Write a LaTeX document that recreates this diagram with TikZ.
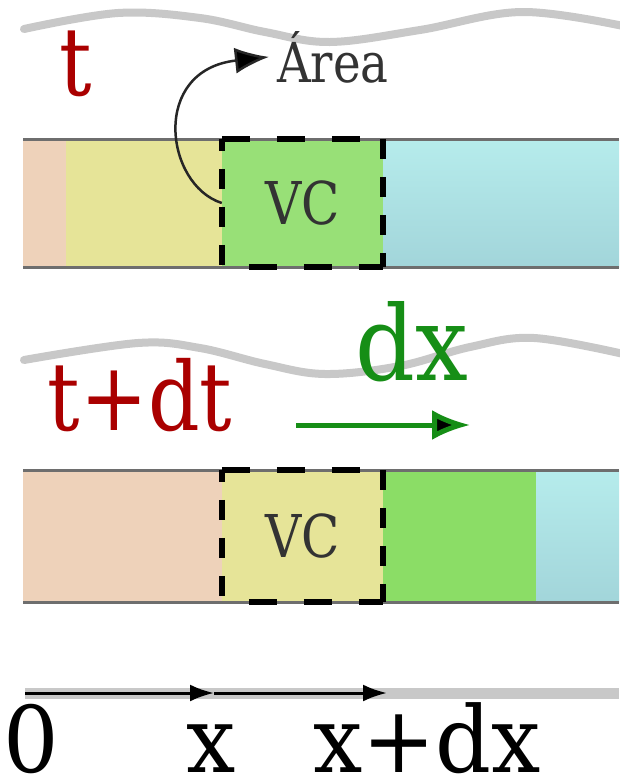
\documentclass[tikz,border=0pt]{standalone}
\usepackage{fontspec}
\newfontfamily\lab{DejaVu Serif}[FakeStretch=0.85]
\newfontfamily\labw{DejaVu Serif}[FakeStretch=0.95]
\newfontfamily\labd{DejaVu Serif}[FakeStretch=0.9]
\usetikzlibrary{arrows.meta}
\definecolor{peach}{HTML}{EED2BA}
\definecolor{yel}{HTML}{E6E498}
\definecolor{grnA}{HTML}{98E077}
\definecolor{grnB}{HTML}{8BDD66}
\definecolor{cyanT}{HTML}{B6ECEC}
\definecolor{cyanB}{HTML}{A2D5DA}
\definecolor{wavegray}{HTML}{C8C8C8}
\definecolor{bargray}{HTML}{6E6E6E}
\definecolor{tred}{HTML}{AA0000}
\definecolor{dxgreen}{HTML}{168E16}
\definecolor{txtgray}{HTML}{333333}
\begin{document}
\begin{tikzpicture}[x=1pt,y=-1pt,
  biglab/.style={font=\lab\fontsize{95}{100}\selectfont, inner sep=0pt, anchor=base},
  axlab/.style={font=\labw\fontsize{92}{97}\selectfont, inner sep=0pt, anchor=base},
  wave/.style={draw=wavegray, line width=8pt, line cap=round},
  barline/.style={draw=bargray, line width=3pt},
  vcbox/.style={minimum width=161pt, minimum height=128pt, inner sep=0pt, text=txtgray,
                font=\lab\fontsize{59}{62}\selectfont},
  hdash/.style={draw=black, line width=6pt, dash pattern=on 28pt off 27pt},
  vdash/.style={draw=black, line width=6pt, dash pattern=on 20pt off 18pt},
  axarrow/.style={draw=black, line width=3pt, -{Latex[length=24pt,width=17pt]}},
  flow/.style={draw=dxgreen, line width=5pt, -{Latex[length=38pt,width=30pt,fill=black]}},
  areaarrow/.style={draw=black!85, line width=2.5pt, -{Latex[length=34pt,width=26pt,fill=black]}}
]
\useasboundingbox (0,0) rectangle (619,782);
\fill[white] (0,0) rectangle (619,782);

% ---------- state t ----------
\draw[wave] plot[smooth, tension=0.6] coordinates
  {(24,29) (118,13) (200,18) (265,32) (330,42) (420,30) (522,12) (628,27)};
\fill[peach] (23,139) rectangle (66,267);
\fill[yel] (66,139) rectangle (222,267);
\fill[grnA] (222,139) rectangle (383,267);
\shade[top color=cyanT, bottom color=cyanB] (383,139) rectangle (619,267);
\draw[barline] (23,139) -- (619,139);
\draw[barline] (23,267) -- (619,267);
\node[vcbox] (vc1) at (302.5,203) {VC};
\draw[hdash] (vc1.north west) -- (vc1.north east);
\draw[hdash, dash phase=28pt] (vc1.south west) -- (vc1.south east);
\draw[vdash, dash phase=8pt] (vc1.north west) -- (vc1.south west);
\draw[vdash] (vc1.north east) -- (vc1.south east);

\node[biglab, text=tred] (t) at (76,95) {t};
\node[font=\lab\fontsize{55}{58}\selectfont, text=txtgray, anchor=base, inner xsep=8pt, inner ysep=0pt]
  (area) at (333,82) {Área};
\draw[areaarrow] (vc1.west) .. controls (165,185) and (150,70) .. (area.west);

% ---------- state t+dt ----------
\draw[wave] plot[smooth, tension=0.6] coordinates
  {(24,360) (138,343) (200,348) (265,364) (325,374) (400,366) (470,347) (534,338) (628,355)};
\node[biglab, text=tred] (tdt) at (140,430) {t+dt};
\node[font=\labd\fontsize{104}{108}\selectfont, inner sep=0pt, anchor=base, text=dxgreen] (dx) at (412,380) {dx};
\coordinate (g1) at (296,425);
\coordinate (g2) at (470,425);
\draw[flow] (g1) -- (g2);

\fill[peach] (23,470) rectangle (222,602);
\fill[yel] (222,470) rectangle (383,602);
\fill[grnB] (383,470) rectangle (536,602);
\shade[top color=cyanT, bottom color=cyanB] (536,470) rectangle (619,602);
\draw[barline] (23,470) -- (619,470);
\draw[barline] (23,602) -- (619,602);
\node[vcbox, minimum height=132pt] (vc2) at (302.5,536) {VC};
\draw[hdash] (vc2.north west) -- (vc2.north east);
\draw[hdash, dash phase=28pt] (vc2.south west) -- (vc2.south east);
\draw[vdash, dash phase=8pt] (vc2.north west) -- (vc2.south west);
\draw[vdash] (vc2.north east) -- (vc2.south east);

% ---------- axis ----------
\coordinate (a0) at (25,693);
\coordinate (a1) at (214,693);
\coordinate (a2) at (387,693);
\coordinate (aend) at (619,693);
\draw[draw=wavegray, line width=11pt] (a0) -- (aend);
\draw[axarrow] (a0) -- (a1);
\draw[axarrow] (a1) -- (a2);
\node[axlab] (zero) at (31,772) {0};
\node[axlab] (xl) at (211,772) {x};
\node[axlab] (xdx) at (427,772) {x+dx};
\end{tikzpicture}
\end{document}
